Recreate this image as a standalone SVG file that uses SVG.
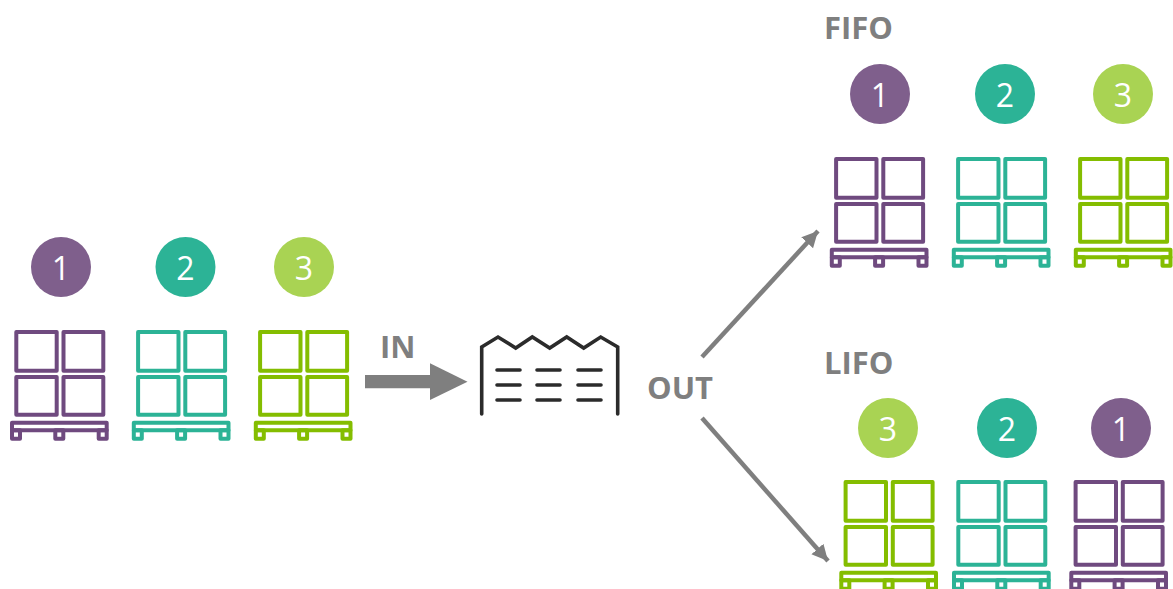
<svg xmlns="http://www.w3.org/2000/svg" width="1173" height="589" viewBox="0 0 1173 589">
<style>
.lbl{font-family:"Open Sans","Liberation Sans",sans-serif;font-weight:700;font-size:31px;fill:#7f7f7f}
.num{font-family:"Open Sans","Liberation Sans",sans-serif;font-size:32px;fill:#fff;text-anchor:middle}
.p{fill:none;stroke-width:4;stroke-linejoin:round}
.purple{stroke:#6f4a7f}.teal{stroke:#2cb396}.green{stroke:#84bd00}
.conn{stroke:#7f7f7f;stroke-width:4.500;fill:none}
.wh{fill:none;stroke:#2b2b2b;stroke-width:3.600;stroke-linecap:round;stroke-linejoin:miter}
</style>
<defs>
<g id="pallet">
<rect x="6.300" y="2" width="40.400" height="38.700"/>
<rect x="53.500" y="2" width="39.800" height="38.700"/>
<rect x="6.300" y="47" width="40.400" height="37.700"/>
<rect x="53.500" y="47" width="39.800" height="37.700"/>
<rect x="2" y="92.700" width="94.700" height="7.600"/>
<rect x="2" y="100.300" width="8" height="8.400"/>
<rect x="45.300" y="100.300" width="8" height="8.400"/>
<rect x="88.700" y="100.300" width="8" height="8.400"/>
</g>
<marker id="ah" markerUnits="userSpaceOnUse" markerWidth="18" markerHeight="18" refX="16" refY="8" orient="auto"><path d="M0 0L16 8L0 16Z" fill="#7f7f7f"/></marker>
</defs>
<g id="connectors">
<path d="M365 381.700H432" stroke="#7f7f7f" stroke-width="13.300" fill="none"/>
<path d="M430 363.300L467.500 381.700L430 400Z" fill="#7f7f7f"/>
<path class="conn" d="M702 357L818 231" marker-end="url(#ah)"/>
<path class="conn" d="M702 418L828 561" marker-end="url(#ah)"/>
</g>
<g id="warehouse">
<path class="wh" d="M481.700 414V347L498 337L515.700 348L532.300 337L549.700 348L566.700 337L583.700 348L600.700 337L617.700 347V414"/>
<path class="wh" d="M497 370H520M537 370H560M578 370H601M497 385H520M537 385H560M578 385H601M497 400H520M537 400H560M578 400H601"/>
</g>
<g id="in-1"><circle cx="61" cy="267" r="30" fill="#7f5f8c"/><text class="num" x="61" y="280">1</text><use href="#pallet" class="p purple" x="10" y="330"/></g>
<g id="in-2"><circle cx="185.500" cy="267" r="30" fill="#2cb396"/><text class="num" x="185.500" y="280">2</text><use href="#pallet" class="p teal" x="131.800" y="330"/></g>
<g id="in-3"><circle cx="304" cy="267" r="30" fill="#a9d353"/><text class="num" x="304" y="280">3</text><use href="#pallet" class="p green" x="253.800" y="330"/></g>
<g id="fifo-1"><circle cx="880" cy="94" r="30" fill="#7f5f8c"/><text class="num" x="880" y="107">1</text><use href="#pallet" class="p purple" x="829.800" y="157"/></g>
<g id="fifo-2"><circle cx="1005" cy="94" r="30" fill="#2cb396"/><text class="num" x="1005" y="107">2</text><use href="#pallet" class="p teal" x="951.800" y="157"/></g>
<g id="fifo-3"><circle cx="1123" cy="94" r="30" fill="#a9d353"/><text class="num" x="1123" y="107">3</text><use href="#pallet" class="p green" x="1073.800" y="157"/></g>
<g id="lifo-3"><circle cx="888" cy="428" r="30" fill="#a9d353"/><text class="num" x="888" y="441">3</text><use href="#pallet" class="p green" x="839.300" y="480"/></g>
<g id="lifo-2"><circle cx="1007" cy="428" r="30" fill="#2cb396"/><text class="num" x="1007" y="441">2</text><use href="#pallet" class="p teal" x="952" y="480"/></g>
<g id="lifo-1"><circle cx="1121" cy="428" r="30" fill="#7f5f8c"/><text class="num" x="1121" y="441">1</text><use href="#pallet" class="p purple" x="1069.300" y="480"/></g>
<text class="lbl" x="380" y="358">IN</text>
<text class="lbl" x="647" y="399">OUT</text>
<text class="lbl" x="824" y="39">FIFO</text>
<text class="lbl" x="824" y="374">LIFO</text>
</svg>
